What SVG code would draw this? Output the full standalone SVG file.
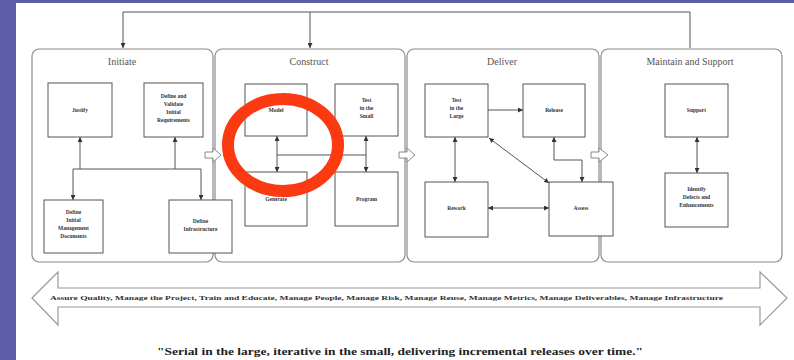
<svg xmlns="http://www.w3.org/2000/svg" width="794" height="360" viewBox="0 0 794 360">
<defs>
<marker id="ah" viewBox="0 0 10 10" refX="10" refY="5" markerWidth="5" markerHeight="5" markerUnits="userSpaceOnUse" orient="auto-start-reverse">
<path d="M0,0 L10,5 L0,10 z" fill="#333"/>
</marker>
<style>
.phase{fill:#fff;stroke:#8a8a8a;stroke-width:1.2}
.box{fill:#fff;stroke:#555;stroke-width:1}
.ttl{font-family:"Liberation Serif",serif;font-size:10px;fill:#555;text-anchor:middle}
.lbl{font-family:"Liberation Serif",serif;font-size:5.5px;font-weight:bold;fill:#333;text-anchor:middle}
.c{fill:none;stroke:#555;stroke-width:1}
.hol{fill:#fff;stroke:#888;stroke-width:1}
</style>
</defs>
<rect x="0" y="0" width="794" height="360" fill="#5d5ca8"/>
<rect x="16" y="3" width="778" height="357" fill="#fff"/>

<g id="phase-initiate">
<rect class="phase" x="32" y="49" width="181" height="213" rx="7"/>
<text class="ttl" x="122" y="65">Initiate</text>
</g>
<g id="phase-construct">
<rect class="phase" x="215" y="49" width="190" height="213" rx="7"/>
<text class="ttl" x="309" y="65">Construct</text>
</g>
<g id="phase-deliver">
<rect class="phase" x="407" y="49" width="192" height="213" rx="7"/>
<text class="ttl" x="502" y="65">Deliver</text>
</g>
<g id="phase-maintain">
<rect class="phase" x="601" y="49" width="181" height="213" rx="7"/>
<text class="ttl" x="690" y="65">Maintain and Support</text>
</g>

<g id="connectors">
<path class="c" d="M690,48 V12 H123 V48" marker-end="url(#ah)"/>
<path class="c" d="M310,12 V48" marker-end="url(#ah)"/>
<path class="c" d="M80,169 V137" marker-end="url(#ah)"/>
<path class="c" d="M175,169 V137" marker-end="url(#ah)"/>
<path class="c" d="M73,169 H201"/>
<path class="c" d="M73,169 V200" marker-end="url(#ah)"/>
<path class="c" d="M201,169 V200" marker-end="url(#ah)"/>
<path class="c" d="M277,136 V172" marker-start="url(#ah)" marker-end="url(#ah)"/>
<path class="c" d="M366,136 V172" marker-start="url(#ah)" marker-end="url(#ah)"/>
<path class="c" d="M277,155 H366"/>
<path class="c" d="M488,110 H523" marker-end="url(#ah)"/>
<path class="c" d="M455,137 V182" marker-start="url(#ah)" marker-end="url(#ah)"/>
<path class="c" d="M489,138 L549,183" marker-start="url(#ah)" marker-end="url(#ah)"/>
<path class="c" d="M554,137 V160 H582 V182" marker-start="url(#ah)" marker-end="url(#ah)"/>
<path class="c" d="M488,208 H549" marker-start="url(#ah)" marker-end="url(#ah)"/>
<path class="c" d="M697,137 V173" marker-start="url(#ah)" marker-end="url(#ah)"/>
<path class="hol" d="M205,152 H213 V148 L221,155 L213,162 V158 H205 z"/>
<path class="hol" d="M399,152 H407 V148 L415,155 L407,162 V158 H399 z"/>
<path class="hol" d="M591,152 H599 V148 L608,155 L599,162 V158 H591 z"/>
</g>

<g id="n-justify"><rect class="box" x="48" y="83" width="64" height="54"/><text class="lbl" x="80" y="112">Justify</text></g>
<g id="n-define-validate"><rect class="box" x="144" y="83" width="59" height="54"/><text class="lbl" x="173.5"><tspan x="173.5" y="98">Define and</tspan><tspan x="173.5" y="106">Validate</tspan><tspan x="173.5" y="114">Initial</tspan><tspan x="173.5" y="122">Requirements</tspan></text></g>
<g id="n-define-mgmt"><rect class="box" x="44" y="200" width="59" height="53"/><text class="lbl" x="73.5"><tspan x="73.5" y="214">Define</tspan><tspan x="73.5" y="222">Initial</tspan><tspan x="73.5" y="230">Management</tspan><tspan x="73.5" y="238">Documents</tspan></text></g>
<g id="n-define-infra"><rect class="box" x="169" y="200" width="63" height="53"/><text class="lbl" x="200.5"><tspan x="200.5" y="223">Define</tspan><tspan x="200.5" y="231">Infrastructure</tspan></text></g>

<g id="n-model"><rect class="box" x="245" y="84" width="62" height="52"/><text class="lbl" x="276" y="112">Model</text></g>
<g id="n-test-small"><rect class="box" x="335" y="84" width="63" height="52"/><text class="lbl" x="366.5"><tspan x="366.5" y="102">Test</tspan><tspan x="366.5" y="110">in the</tspan><tspan x="366.5" y="118">Small</tspan></text></g>
<g id="n-generate"><rect class="box" x="245" y="172" width="62" height="54"/><text class="lbl" x="276" y="201">Generate</text></g>
<g id="n-program"><rect class="box" x="335" y="172" width="63" height="54"/><text class="lbl" x="366.5" y="201">Program</text></g>

<g id="n-test-large"><rect class="box" x="425" y="84" width="63" height="53"/><text class="lbl" x="456.5"><tspan x="456.5" y="102">Test</tspan><tspan x="456.5" y="110">in the</tspan><tspan x="456.5" y="118">Large</tspan></text></g>
<g id="n-release"><rect class="box" x="523" y="84" width="62" height="53"/><text class="lbl" x="554" y="112">Release</text></g>
<g id="n-rework"><rect class="box" x="425" y="182" width="63" height="55"/><text class="lbl" x="456.5" y="210">Rework</text></g>
<g id="n-assess"><rect class="box" x="549" y="182" width="64" height="54"/><text class="lbl" x="581" y="210">Assess</text></g>

<g id="n-support"><rect class="box" x="665" y="84" width="63" height="53"/><text class="lbl" x="696.5" y="112">Support</text></g>
<g id="n-identify"><rect class="box" x="665" y="173" width="63" height="54"/><text class="lbl" x="696.5"><tspan x="696.5" y="191">Identify</tspan><tspan x="696.5" y="199">Defects and</tspan><tspan x="696.5" y="207">Enhancements</tspan></text></g>

<g id="big-arrow">
<path d="M32,298 L58,272 V288 H760 V272 L787,298 L760,325 V307 H58 V325 z" fill="#fff" stroke="#999" stroke-width="1.2"/>
<text x="50" y="300" font-family="Liberation Serif,serif" font-size="7px" font-weight="bold" fill="#333" textLength="673" lengthAdjust="spacingAndGlyphs">Assure Quality, Manage the Project, Train and Educate, Manage People, Manage Risk, Manage Reuse, Manage Metrics, Manage Deliverables, Manage Infrastructure</text>
</g>

<text x="157" y="355" font-family="Liberation Serif,serif" font-size="10.5px" font-weight="bold" fill="#222" textLength="486" lengthAdjust="spacingAndGlyphs">"Serial in the large, iterative in the small, delivering incremental releases over time."</text>

<ellipse cx="283" cy="145" rx="55" ry="46" fill="none" stroke="#fb3a12" stroke-width="12"/>
</svg>
